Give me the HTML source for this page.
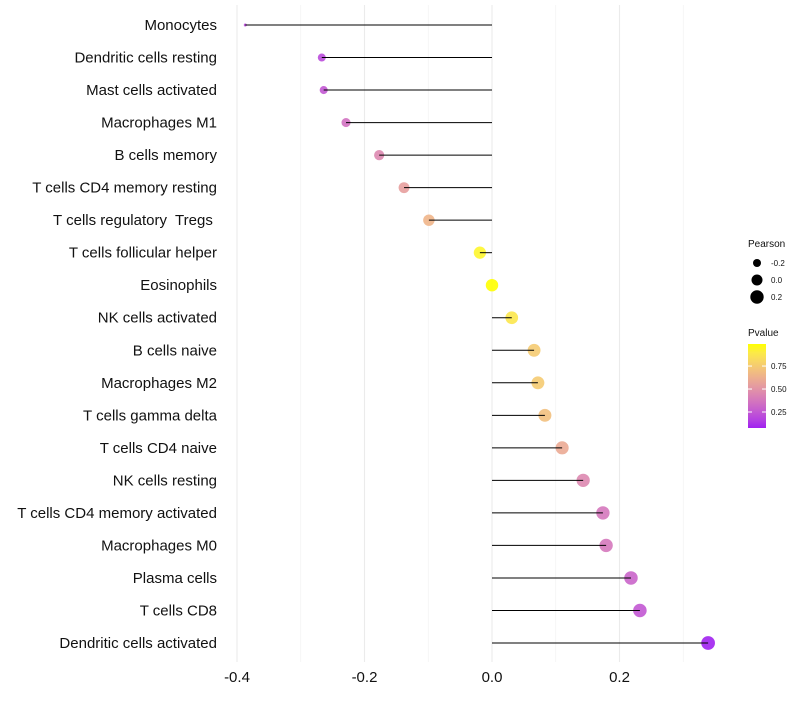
<!DOCTYPE html>
<html><head><meta charset="utf-8"><style>
body{margin:0;background:#fff;font-family:"Liberation Sans",sans-serif}
text{white-space:pre}
</style></head><body>
<svg id="c" width="800" height="700" xmlns="http://www.w3.org/2000/svg"></svg>
<script>
const categories=["Monocytes","Dendritic cells resting","Mast cells activated","Macrophages M1","B cells memory","T cells CD4 memory resting","T cells regulatory  Tregs ","T cells follicular helper","Eosinophils","NK cells activated","B cells naive","Macrophages M2","T cells gamma delta","T cells CD4 naive","NK cells resting","T cells CD4 memory activated","Macrophages M0","Plasma cells","T cells CD8","Dendritic cells activated"];
const pearson=[-0.387,-0.267,-0.264,-0.229,-0.177,-0.138,-0.099,-0.019,0.0,0.031,0.066,0.072,0.083,0.110,0.143,0.174,0.179,0.218,0.232,0.339];
const pvalue=[0.2,0.2,0.25,0.35,0.45,0.55,0.65,0.95,0.99,0.88,0.75,0.75,0.7,0.6,0.45,0.38,0.38,0.3,0.25,0.08];
const xTicks=[-0.4,-0.2,0.0,0.2];
const xMinor=[-0.3,-0.1,0.1,0.3];
const sizeLegend=[-0.2,0.0,0.2];
const colorTicks=[0.25,0.5,0.75];
const NS="http://www.w3.org/2000/svg",svg=document.getElementById("c");
function mk(t,a,p){const e=document.createElementNS(NS,t);for(const k in a)e.setAttribute(k,a[k]);(p||svg).appendChild(e);return e;}
const X=v=>492+v*637.5;
const Y=i=>25+i*(618/19);
const R=v=>7-5.5*Math.exp(-(v+0.387)*5.05);
const RL=v=>Math.sqrt(Math.max(1,2.5+(v+0.387)*72));
function toLab(h){let c=[1,3,5].map(i=>parseInt(h.substr(i,2),16)/255).map(u=>u<=0.04045?u/12.92:Math.pow((u+0.055)/1.055,2.4));
let x=(c[0]*0.4124+c[1]*0.3576+c[2]*0.1805)/0.95047,y=c[0]*0.2126+c[1]*0.7152+c[2]*0.0722,z=(c[0]*0.0193+c[1]*0.1192+c[2]*0.9505)/1.08883;
const f=t=>t>0.008856?Math.cbrt(t):7.787*t+16/116;return[116*f(y)-16,500*(f(x)-f(y)),200*(f(y)-f(z))];}
function fromLab(L){let fy=(L[0]+16)/116,fx=fy+L[1]/500,fz=fy-L[2]/200;const g=t=>t*t*t>0.008856?t*t*t:(t-16/116)/7.787;
let x=g(fx)*0.95047,y=g(fy),z=g(fz)*1.08883;let r=x*3.2406-y*1.5372-z*0.4986,gg=-x*0.9689+y*1.8758+z*0.0415,b=x*0.0557-y*0.2040+z*1.0570;
return"rgb("+[r,gg,b].map(u=>{u=u<=0.0031308?12.92*u:1.055*Math.pow(u,1/2.4)-0.055;return Math.round(Math.min(1,Math.max(0,u))*255);}).join(",")+")";}
const lo=toLab("#A020F0"),hi=toLab("#FFFF00"),pmin=0.076,pmax=0.99;
const col=p=>{let t=Math.min(1,Math.max(0,(p-pmin)/(pmax-pmin)));return fromLab(lo.map((v,i)=>v+(hi[i]-v)*t));};
xMinor.forEach(v=>{const l=mk("line",{x1:X(v),x2:X(v),y1:5,y2:662,stroke:"#f0f0f0","stroke-width":0.6});});
xTicks.forEach(v=>{const l=mk("line",{x1:X(v),x2:X(v),y1:5,y2:662,stroke:"#ebebeb","stroke-width":1.1});
const t=mk("text",{x:X(v),y:682,"text-anchor":"middle","font-size":15,fill:"#111"});t.textContent=v.toFixed(1);});
categories.forEach((c,i)=>{const y=Y(i),v=pearson[i];
const t=mk("text",{x:217,y:y+5,"text-anchor":"end","font-size":15,fill:"#111"});t.textContent=c;
const p=mk("circle",{cx:X(v),cy:y,r:R(v),fill:col(pvalue[i]),"fill-opacity":0.9});
const l=mk("line",{x1:X(0),x2:X(v),y1:y,y2:y,stroke:"#000","stroke-width":1});});
let t=mk("text",{x:748,y:247,"font-size":10,fill:"#111"});t.textContent="Pearson";
sizeLegend.forEach((v,i)=>{const y=263+i*17;const c=mk("circle",{cx:757,cy:y,r:RL(v),fill:"#000"});
const tt=mk("text",{x:771,y:y+3,"font-size":8,fill:"#111"});tt.textContent=v.toFixed(1);});
t=mk("text",{x:748,y:336,"font-size":10,fill:"#111"});t.textContent="Pvalue";
const defs=mk("defs",{});const g=mk("linearGradient",{id:"gr",x1:0,y1:1,x2:0,y2:0},defs);
for(let k=0;k<=10;k++){mk("stop",{offset:k/10,"stop-color":col(pmin+(pmax-pmin)*k/10)},g);}
const bar=mk("rect",{x:748,y:344,width:18,height:84,fill:"url(#gr)"});
colorTicks.forEach(v=>{const y=428-(v-pmin)/(pmax-pmin)*84;mk("line",{x1:748,x2:752,y1:y,y2:y,stroke:"#fff"});mk("line",{x1:762,x2:766,y1:y,y2:y,stroke:"#fff"});
const tt=mk("text",{x:771,y:y+3,"font-size":8,fill:"#111"});tt.textContent=v.toFixed(2);});
</script></body></html>
